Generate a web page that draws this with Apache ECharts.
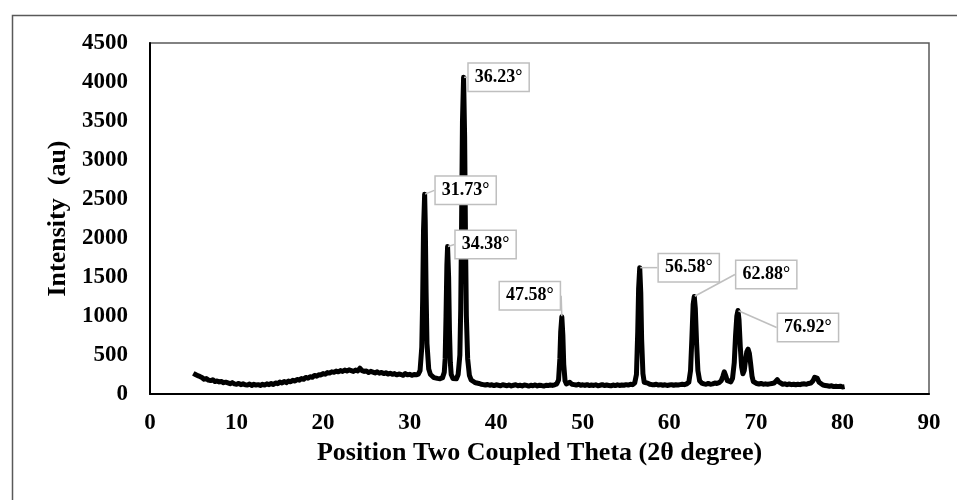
<!DOCTYPE html>
<html>
<head>
<meta charset="utf-8">
<title>XRD pattern</title>
<script src="https://cdn.jsdelivr.net/npm/echarts@6/dist/echarts.min.js"></script>
<style>
    html, body { margin: 0; padding: 0; background: #fff; }
    #main { width: 957px; height: 500px; }
</style>
</head>
<body>
<div id="main"></div>
<script>
var lowAngle = [
    [5.0, 265], [5.25, 250], [5.5, 235], [5.75, 225], [6.0, 212], [6.25, 190], [6.5, 198], [6.75, 178],
    [7.0, 172], [7.25, 182], [7.5, 160], [7.75, 166], [8.0, 155], [8.25, 160], [8.5, 145], [8.75, 152],
    [9.0, 142], [9.25, 132], [9.5, 146], [9.75, 130], [10.0, 125], [10.25, 136], [10.5, 120], [10.75, 130],
    [11.0, 118], [11.25, 114], [11.5, 128], [11.75, 110], [12.0, 124], [12.25, 114], [12.5, 120], [12.75, 110],
    [13.0, 124], [13.25, 115], [13.5, 130], [13.75, 120], [14.0, 135], [14.25, 122], [14.5, 142], [14.75, 132],
    [15.0, 152], [15.25, 140], [15.5, 160], [15.75, 146], [16.0, 166], [16.25, 156], [16.5, 176], [16.75, 166],
    [17.0, 186], [17.25, 178], [17.5, 198], [17.75, 188], [18.0, 212], [18.25, 202], [18.5, 222], [18.75, 214],
    [19.0, 238], [19.25, 228], [19.5, 248], [19.75, 244], [20.0, 262], [20.25, 254], [20.5, 274], [20.75, 268],
    [21.0, 284], [21.25, 278], [21.5, 294], [21.75, 284], [22.0, 300], [22.25, 290], [22.5, 306], [22.75, 294],
    [23.0, 310], [23.25, 300], [23.5, 290], [23.75, 306], [24.0, 296], [24.25, 330], [24.5, 300], [24.75, 290],
    [25.0, 296], [25.25, 276], [25.5, 290], [25.75, 280], [26.0, 270], [26.25, 284], [26.5, 266], [26.75, 276],
    [27.0, 262], [27.25, 272], [27.5, 256], [27.75, 266], [28.0, 252], [28.25, 262], [28.5, 246], [28.75, 256],
    [29.0, 250], [29.25, 240], [29.5, 262], [29.75, 246], [30.0, 252], [30.25, 240], [30.5, 250], [30.75, 246]
];

var mainPeaks = [
    [31.0, 256], [31.2, 300], [31.4, 600], [31.5, 1200], [31.6, 2100], [31.73, 2560], [31.8, 2200], [31.9, 1300],
    [32.0, 650], [32.2, 320], [32.4, 250], [32.6, 225], [32.8, 210], [33.0, 205], [33.2, 200], [33.5, 195],
    [33.8, 210], [34.0, 280], [34.1, 450], [34.2, 1000], [34.3, 1650], [34.38, 1890], [34.5, 1500], [34.6, 800],
    [34.7, 400], [34.8, 250], [35.0, 200], [35.2, 185], [35.4, 195], [35.6, 250], [35.8, 500], [35.9, 1100],
    [36.0, 2200], [36.1, 3500], [36.23, 4060], [36.35, 3300], [36.45, 2000], [36.55, 1000], [36.7, 450], [36.9, 240],
    [37.1, 180], [37.3, 160], [37.5, 150], [37.75, 140]
];

var midAngle = [
    [38.0, 135], [38.25, 125], [38.5, 120], [38.75, 115], [39.0, 122], [39.25, 112], [39.5, 118], [39.75, 108],
    [40.0, 118], [40.25, 112], [40.5, 106], [40.75, 118], [41.0, 112], [41.25, 106], [41.5, 116], [41.75, 104],
    [42.0, 112], [42.25, 118], [42.5, 106], [42.75, 112], [43.0, 104], [43.25, 116], [43.5, 110], [43.75, 102],
    [44.0, 112], [44.25, 106], [44.5, 116], [44.75, 104], [45.0, 112], [45.25, 108], [45.5, 102], [45.75, 112],
    [46.0, 108], [46.25, 116], [46.5, 110], [46.75, 118], [47.0, 130], [47.2, 180], [47.35, 450], [47.45, 800],
    [47.58, 990], [47.7, 750], [47.8, 380], [47.95, 170], [48.1, 130], [48.3, 125], [48.5, 150], [48.75, 125],
    [49.0, 120], [49.25, 115], [49.5, 125], [49.75, 112], [50.0, 118], [50.25, 110], [50.5, 120], [50.75, 108],
    [51.0, 115], [51.25, 110], [51.5, 118], [51.75, 105], [52.0, 112], [52.25, 120], [52.5, 108], [52.75, 115],
    [53.0, 110], [53.25, 105], [53.5, 115], [53.75, 108], [54.0, 118], [54.25, 110], [54.5, 115], [54.75, 112],
    [55.0, 120], [55.25, 115], [55.5, 125], [55.75, 120], [56.0, 140], [56.2, 250], [56.35, 800], [56.45, 1350],
    [56.58, 1620], [56.7, 1300], [56.8, 700], [56.95, 260], [57.1, 150], [57.3, 130], [57.5, 140], [57.75, 125],
    [58.0, 120], [58.25, 118], [58.5, 125], [58.75, 115], [59.0, 120], [59.25, 112], [59.5, 118], [59.75, 110]
];

var highAngle = [
    [60.0, 115], [60.25, 120], [60.5, 112], [60.75, 118], [61.0, 115], [61.25, 120], [61.5, 125], [61.75, 120],
    [62.0, 130], [62.25, 150], [62.45, 300], [62.6, 700], [62.75, 1150], [62.88, 1250], [63.0, 1100], [63.15, 650],
    [63.3, 300], [63.5, 170], [63.75, 140], [64.0, 130], [64.25, 125], [64.5, 135], [64.75, 125], [65.0, 130],
    [65.25, 140], [65.5, 135], [65.75, 145], [66.0, 170], [66.2, 230], [66.35, 285], [66.5, 240], [66.7, 170],
    [66.9, 150], [67.1, 155], [67.3, 200], [67.5, 400], [67.65, 750], [67.8, 1000], [67.93, 1070], [68.05, 950],
    [68.2, 600], [68.35, 350], [68.5, 260], [68.65, 300], [68.8, 430], [68.95, 540], [69.1, 575], [69.25, 520],
    [69.4, 380], [69.55, 230], [69.7, 160], [69.9, 140], [70.1, 135], [70.35, 128], [70.6, 135], [70.85, 125],
    [71.1, 130], [71.35, 125], [71.6, 130], [71.85, 135], [72.1, 140], [72.3, 160], [72.47, 185], [72.65, 155],
    [72.85, 135], [73.1, 125], [73.35, 130], [73.6, 120], [73.85, 128], [74.1, 120], [74.35, 125], [74.6, 118],
    [74.85, 125], [75.1, 120], [75.35, 128], [75.6, 130], [75.85, 125], [76.1, 135], [76.35, 140], [76.6, 170],
    [76.8, 215], [76.95, 230], [77.1, 200], [77.3, 150], [77.5, 125], [77.75, 115], [78.0, 110], [78.25, 105],
    [78.5, 100], [78.75, 105], [79.0, 95], [79.25, 100], [79.5, 95], [79.75, 100], [80.0, 90], [80.25, 95]
];

// labelled peaks (the last label text is as printed in the figure)
var peakAngles = [31.73, 34.38, 36.23, 47.58, 56.58, 62.88, 67.93];
var peakHeights = [2560, 1890, 4060, 990, 1620, 1250, 1070];
var peakLabels = ['31.73°', '34.38°', '36.23°', '47.58°', '56.58°', '62.88°', '76.92°'];

// where each callout box centre sits relative to its peak (px)
var calloutShift = [[41, -4], [38, -2], [35, 0], [-32, -21], [49, 0], [72, -22], [70, 17]];

var xTicks = { min: 0, max: 90, interval: 10 };
var yTicks = { min: 0, max: 4500, interval: 500 };

var pattern = lowAngle.concat(mainPeaks, midAngle, highAngle);
var peakPoints = peakAngles.map(function (a, i) { return [a, peakHeights[i]]; });

var serif = '"Liberation Serif", "Times New Roman", serif';

var chart = echarts.init(document.getElementById('main'));

chart.setOption({
    animation: false,
    backgroundColor: '#fff',
    graphic: [{
        type: 'rect',
        left: 10,
        top: 13,
        shape: { width: 960, height: 500 },
        style: { fill: 'none', stroke: '#595959', lineWidth: 1.5 },
        silent: true
    }],
    grid: {
        left: 150,
        right: 28,
        top: 43,
        bottom: 106,
        show: true,
        borderColor: '#595959',
        borderWidth: 1.5
    },
    xAxis: {
        type: 'value',
        min: xTicks.min,
        max: xTicks.max,
        interval: xTicks.interval,
        name: 'Position Two Coupled Theta (2θ degree)',
        nameLocation: 'middle',
        nameGap: 45,
        nameTextStyle: { fontFamily: serif, fontWeight: 'bold', fontSize: 26, color: '#000' },
        axisLine: { lineStyle: { color: '#000', width: 2 } },
        axisTick: { show: false },
        splitLine: { show: false },
        axisLabel: { margin: 18, fontFamily: serif, fontWeight: 'bold', fontSize: 23, color: '#000' }
    },
    yAxis: {
        type: 'value',
        min: yTicks.min,
        max: yTicks.max,
        interval: yTicks.interval,
        name: 'Intensity  (au)',
        nameLocation: 'middle',
        nameGap: 70,
        nameTextStyle: { fontFamily: serif, fontWeight: 'bold', fontSize: 26, color: '#000' },
        axisLine: { show: true, lineStyle: { color: '#000', width: 2 } },
        axisTick: { show: false },
        splitLine: { show: false },
        axisLabel: {
            margin: 22, fontFamily: serif, fontWeight: 'bold', fontSize: 23, color: '#000',
            formatter: function (v) { return String(v); }
        }
    },
    series: [{
        name: 'XRD',
        type: 'line',
        data: pattern,
        showSymbol: false,
        lineStyle: { color: '#000', width: 5, join: 'round' },
        z: 2
    }, {
        name: 'peaks',
        type: 'scatter',
        data: peakPoints,
        symbolSize: 1,
        itemStyle: { color: '#000', opacity: 1 },
        z: 5,
        label: {
            show: true,
            position: 'right',
            formatter: function (p) { return peakLabels[p.dataIndex]; },
            fontFamily: serif,
            fontWeight: 'bold',
            fontSize: 18,
            color: '#000',
            opacity: 1,
            backgroundColor: '#fff',
            borderColor: '#bfbfbf',
            borderWidth: 1.5,
            padding: [5, 6, 4, 6]
        },
        labelLine: {
            show: true,
            lineStyle: { color: '#bfbfbf', width: 1.5 }
        },
        labelLayout: function (p) {
            var s = calloutShift[p.dataIndex];
            var r = p.rect, l = p.labelRect;
            return {
                dx: r.x + r.width / 2 + s[0] - (l.x + l.width / 2),
                dy: r.y + r.height / 2 + s[1] - (l.y + l.height / 2)
            };
        }
    }]
});

window.onresize = chart.resize;
</script>
</body>
</html>
